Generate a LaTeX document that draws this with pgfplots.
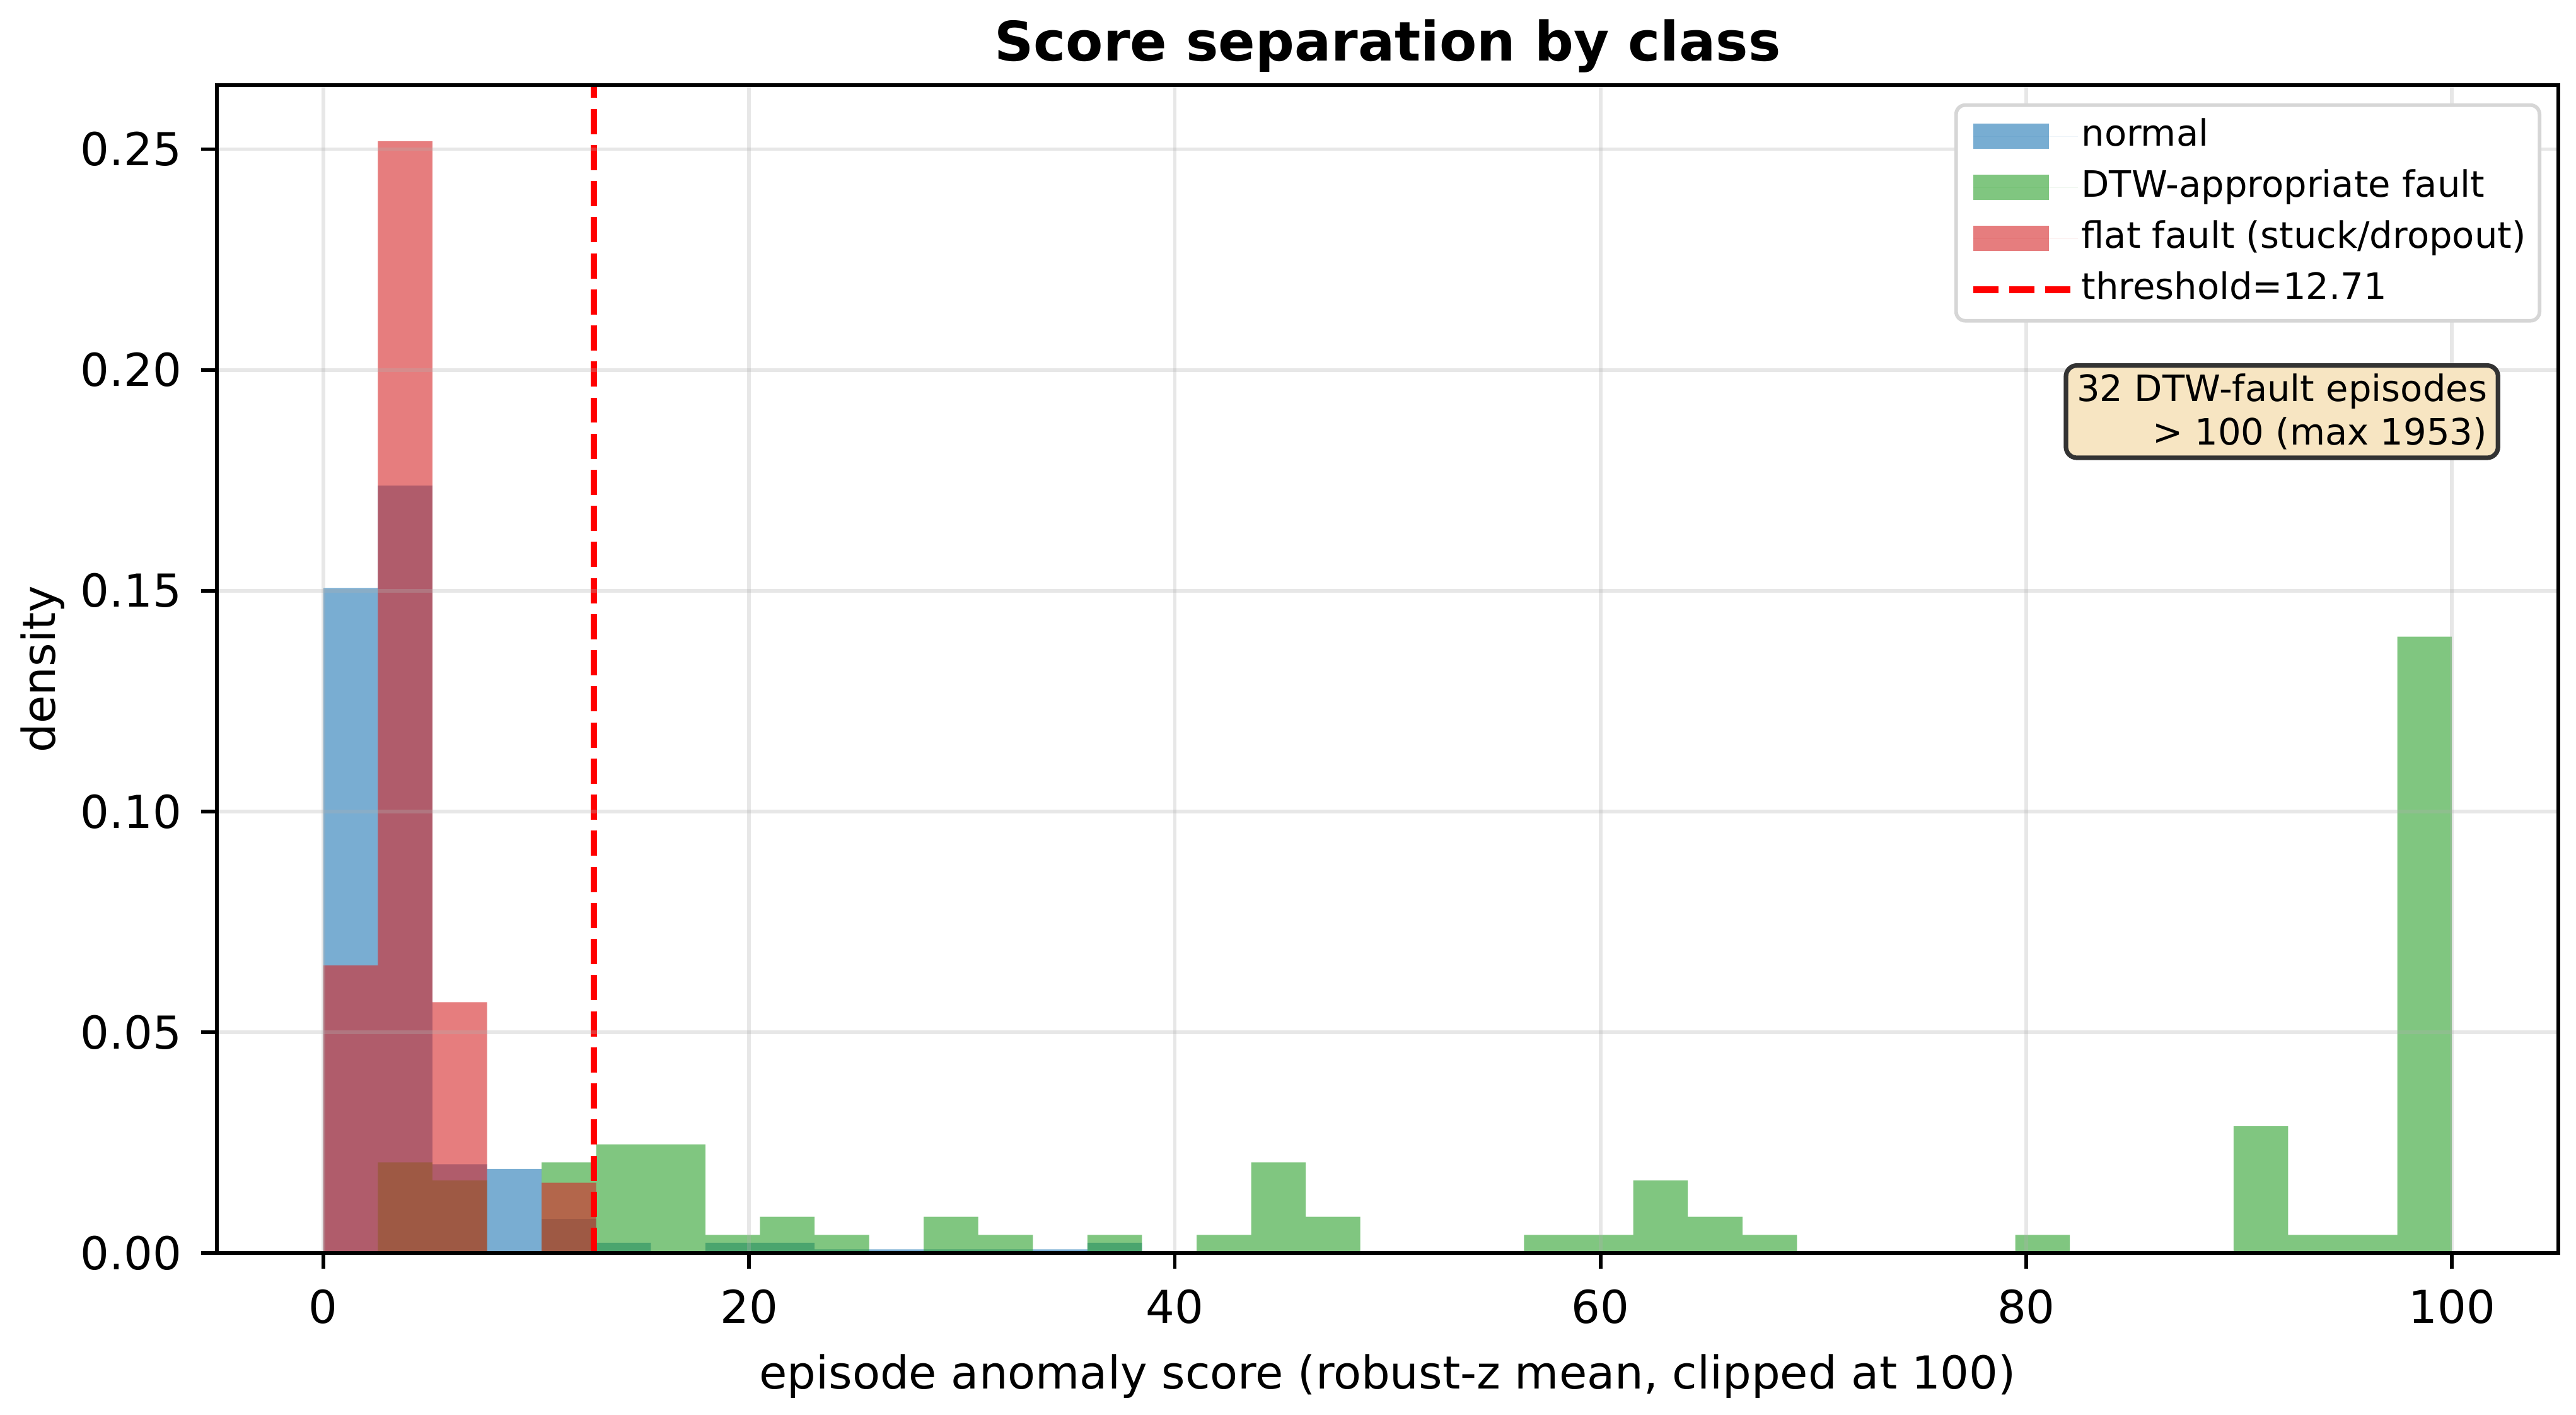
\documentclass[border=0pt]{standalone}
\usepackage{fontspec}
\setmainfont{DejaVu Sans}
\usepackage{pgfplots}
\pgfplotsset{compat=1.18}
\definecolor{c0}{HTML}{1F77B4}
\definecolor{c2}{HTML}{2CA02C}
\definecolor{c3}{HTML}{D62728}
\definecolor{gridc}{RGB}{176,176,176}
\definecolor{legframe}{RGB}{214,214,214}
\definecolor{wheatbox}{RGB}{247,229,194}
\pgfplotsset{
  histleg/.style={legend image code/.code={\fill[##1, sharp corners] (0pt,-2.8pt) rectangle (16.7pt,2.8pt); \path (0pt,0pt) -- (23.1pt,0pt);}},
  threshleg/.style={legend image code/.code={\draw[##1, sharp corners] (0pt,0pt) -- (16pt,0pt); \path (0pt,0pt) -- (23.1pt,0pt);}},
}
\begin{document}
\begin{tikzpicture}
\useasboundingbox (-47.78pt,-35.56pt) rectangle (519.72pt,275.97pt);
\begin{axis}[
  scale only axis, width=515.83pt, height=257.22pt,
  xmin=-5, xmax=105, ymin=0, ymax=0.2645,
  axis on top=true,
  axis line style={line width=0.8pt},
  tick align=outside, tick pos=left,
  major tick length=3.5pt,
  tick style={black, line width=0.8pt},
  xtick={0,20,40,60,80,100},
  ytick={0,0.05,0.1,0.15,0.2,0.25},
  scaled y ticks=false,
  yticklabel style={/pgf/number format/fixed, /pgf/number format/fixed zerofill, /pgf/number format/precision=2, anchor=east, inner sep=0pt, xshift=-4.1pt},
  xticklabel style={anchor=north, inner sep=0pt, yshift=-4.4pt},
  /pgf/number format/assume math mode=true,
  tick label style={font=\fontsize{10}{12}\selectfont},
  grid=major,
  grid style={gridc, draw opacity=0.3, line width=0.8pt},
  xlabel={episode anomaly score (robust-z mean, clipped at 100)},
  xlabel style={at={(axis description cs:0.5,-0.10536)}, anchor=center, inner sep=0pt, font=\fontsize{10}{12}\selectfont},
  ylabel={density},
  ylabel style={at={(axis description cs:-0.07444,0.5)}, anchor=center, inner sep=0pt, font=\fontsize{10}{12}\selectfont},
  legend cell align=left,
  legend style={at={(axis description cs:1,1)}, anchor=north east, xshift=-3.75pt, yshift=-4pt,
    draw=legframe, line width=0.8pt, rounded corners=2pt, fill=white,
    font=\fontsize{8}{9.6}\selectfont, inner xsep=3.0pt, inner ysep=3.2pt, row sep=3.9pt,
    nodes={inner sep=0pt, text height=5.8pt, text depth=1.55pt}},
]
% normal
\addplot[const plot mark left, fill=c0, fill opacity=0.6, draw=none, histleg] coordinates {
(0,0.1506) (2.5641,0.1738) (5.1282,0.0201) (7.6923,0.0190) (10.2564,0.0077) (12.8205,0.0023)
(15.3846,0) (17.9487,0.0023) (20.5128,0.0023) (23.0769,0.0008) (25.6410,0.0008) (28.2051,0.0008)
(30.7692,0.0008) (33.3333,0.0008) (35.8974,0.0023) (38.4615,0) (100,0)
} \closedcycle;
\addlegendentry{normal}
% DTW-appropriate fault
\addplot[const plot mark left, fill=c2, fill opacity=0.6, draw=none, histleg] coordinates {
(0,0) (2.5641,0.0205) (5.1282,0.0164) (7.6923,0) (10.2564,0.0205) (12.8205,0.0246) (15.3846,0.0246)
(17.9487,0.0041) (20.5128,0.0082) (23.0769,0.0041) (25.6410,0) (28.2051,0.0082) (30.7692,0.0041)
(33.3333,0) (35.8974,0.0041) (38.4615,0) (41.0256,0.0041) (43.5897,0.0205) (46.1538,0.0082)
(48.7179,0) (56.4103,0.0041) (58.9744,0.0041) (61.5385,0.0164) (64.1026,0.0082) (66.6667,0.0041)
(69.2308,0) (79.4872,0.0041) (82.0513,0) (89.7436,0.0287) (92.3077,0.0041) (94.8718,0.0041)
(97.4359,0.1396) (100,0)
} \closedcycle;
\addlegendentry{DTW-appropriate fault}
% flat fault
\addplot[const plot mark left, fill=c3, fill opacity=0.6, draw=none, histleg] coordinates {
(0,0.0651) (2.5641,0.2518) (5.1282,0.0568) (7.6923,0) (10.2564,0.0159) (12.8205,0) (100,0)
} \closedcycle;
\addlegendentry{flat fault (stuck/dropout)}
% threshold
\addplot[color=red, line width=1.5pt, dash pattern=on 5.55pt off 2.4pt, threshleg]
  coordinates {(12.71,0) (12.71,0.2645)};
\addlegendentry{threshold=12.71}
\end{axis}
\node[anchor=base, inner sep=0pt, font=\fontsize{12}{14.4}\selectfont\bfseries]
  at (257.92pt,262.62pt) {Score separation by class};
\node[anchor=north east, draw=black!80, line width=1pt, fill=wheatbox, rounded corners=2.4pt,
  inner xsep=2.4pt, inner ysep=1.8pt, align=right, font=\fontsize{8}{9.6}\selectfont]
  at (503.04pt,195.97pt) {32 DTW-fault episodes\\> 100 (max 1953)};
\end{tikzpicture}
\end{document}
